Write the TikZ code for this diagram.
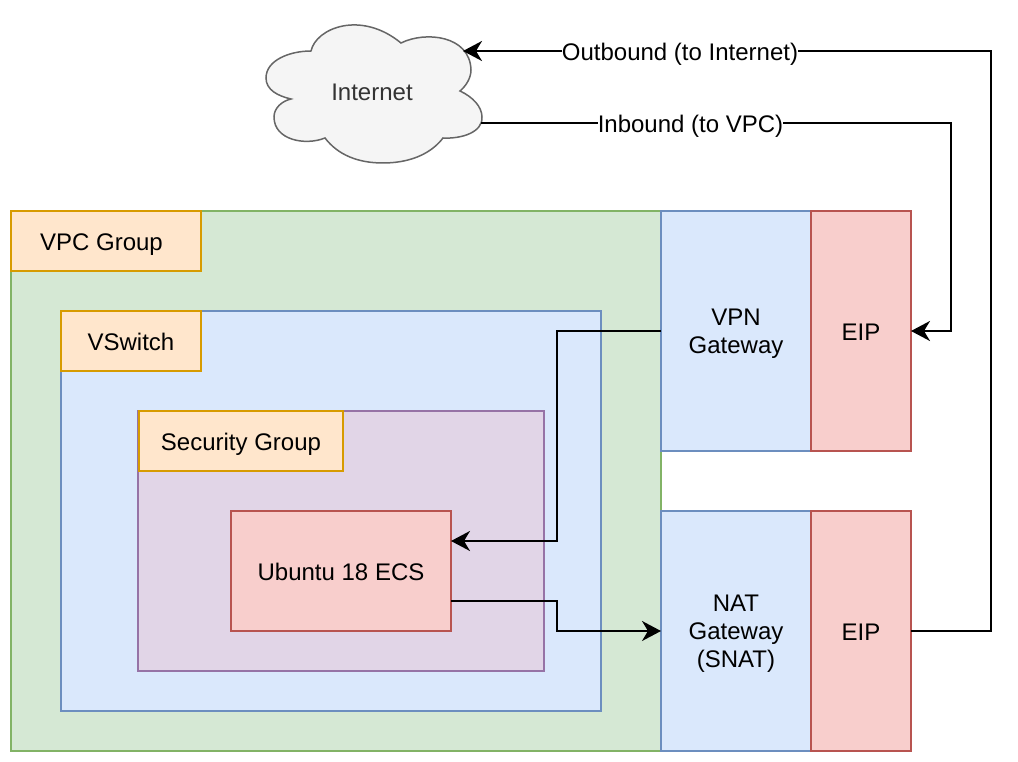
\documentclass[tikz,border=0pt]{standalone}
\usepackage{fontspec}
\setmainfont{Liberation Sans}
\usepackage{xcolor}
\usetikzlibrary{positioning, arrows.meta}
\definecolor{greenfill}{HTML}{D5E8D4}
\definecolor{greenline}{HTML}{82B366}
\definecolor{bluefill}{HTML}{DAE8FC}
\definecolor{blueline}{HTML}{6C8EBF}
\definecolor{redfill}{HTML}{F8CECC}
\definecolor{redline}{HTML}{B85450}
\definecolor{purplefill}{HTML}{E1D5E7}
\definecolor{purpleline}{HTML}{9673A6}
\definecolor{orangefill}{HTML}{FFE6CC}
\definecolor{orangeline}{HTML}{D79B00}
\definecolor{cloudfill}{HTML}{F5F5F5}
\definecolor{cloudline}{HTML}{666666}
\definecolor{cloudtext}{HTML}{333333}
\tikzset{
    box/.style={draw, line width=1.5pt, anchor=north west, inner sep=0pt, outer sep=0pt, align=center, text depth=0pt, execute at begin node={\rule{0pt}{19pt}}, font=\fontsize{24}{28}\selectfont},
    tag/.style={box, draw=orangeline, fill=orangefill},
    conn/.style={line width=2pt, -{Stealth[length=19pt, width=20pt, inset=6pt]}},
    lbl/.style={fill=white, inner sep=0pt, font=\fontsize{24}{28}\selectfont}
}
\begin{document}
\begin{tikzpicture}[x=1pt, y=-1pt]
    \useasboundingbox (0, 0) rectangle (1018, 762);
    % containers
    \node[box, draw=greenline, fill=greenfill, minimum width=650pt, minimum height=540pt] (vpc) at (11, 211) {};
    \node[box, draw=blueline, fill=bluefill, minimum width=540pt, minimum height=400pt] (vswitch) at (61, 311) {};
    \node[box, draw=purpleline, fill=purplefill, minimum width=406pt, minimum height=260pt] (secgroup) at (138, 411) {};
    % labels
    \node[tag, minimum width=190pt, minimum height=60pt] (vpclabel) at (11, 211) {VPC Group\hspace*{9pt}};
    \node[tag, minimum width=140pt, minimum height=60pt] (vswitchlabel) at (61, 311) {VSwitch};
    \node[tag, minimum width=204pt, minimum height=60pt] (seclabel) at (139, 411) {Security Group};
    \node[box, draw=redline, fill=redfill, minimum width=220pt, minimum height=120pt] (ecs) at (231, 511) {Ubuntu 18 ECS};
    % gateways
    \node[box, draw=blueline, fill=bluefill, minimum width=150pt, minimum height=240pt] (vpn) at (661, 211) {VPN\\Gateway};
    \node[box, draw=redline, fill=redfill, minimum width=100pt, minimum height=240pt] (eipa) at (811, 211) {EIP};
    \node[box, draw=blueline, fill=bluefill, minimum width=150pt, minimum height=240pt] (nat) at (661, 511) {NAT\\Gateway\\(SNAT)};
    \node[box, draw=redline, fill=redfill, minimum width=100pt, minimum height=240pt] (eipb) at (811, 511) {EIP};
    % cloud
    \draw[draw=cloudline, fill=cloudfill, line width=1.5pt] (311, 51)
        .. controls (316, 28) and (361, 10) .. (401, 43)
        .. controls (425, 31) and (470, 35) .. (471, 70)
        .. controls (471, 78) and (466, 86) .. (460, 91)
        .. controls (473, 97) and (482, 107) .. (482, 117)
        .. controls (483, 132) and (462, 139) .. (443, 138)
        .. controls (430, 155) and (408, 163) .. (383, 163)
        .. controls (358, 163) and (338, 155) .. (325, 138)
        .. controls (305, 146) and (274, 140) .. (274, 117)
        .. controls (274, 108) and (282, 101) .. (291, 99)
        .. controls (278, 96) and (266, 90) .. (266, 78)
        .. controls (266, 60) and (290, 51) .. (311, 51) -- cycle;
    \node[inner sep=0pt, text=cloudtext, font=\fontsize{24}{28}\selectfont] (internet) at (372, 92) {Internet};
    \coordinate (cloudout) at (463, 51);
    \coordinate (cloudin) at (481, 123);
    % connectors
    \draw[conn] (vpn.west) -- (557, 331) -- (557, 541) -- (ecs.east |- 0, 541);
    \draw[conn] (ecs.east |- 0, 601) -- (557, 601) -- (557, 631) -- (nat.west);
    \draw[conn] (cloudin) -- (951, 123) -- (951, 331) -- (eipa.east);
    \draw[conn] (eipb.east) -- (991, 631) -- (991, 51) -- (cloudout);
    \node[lbl] (inlabel) at (690.5, 126) {Inbound (to VPC)};
    \node[lbl] (outlabel) at (680, 54) {Outbound (to Internet)};
\end{tikzpicture}
\end{document}
